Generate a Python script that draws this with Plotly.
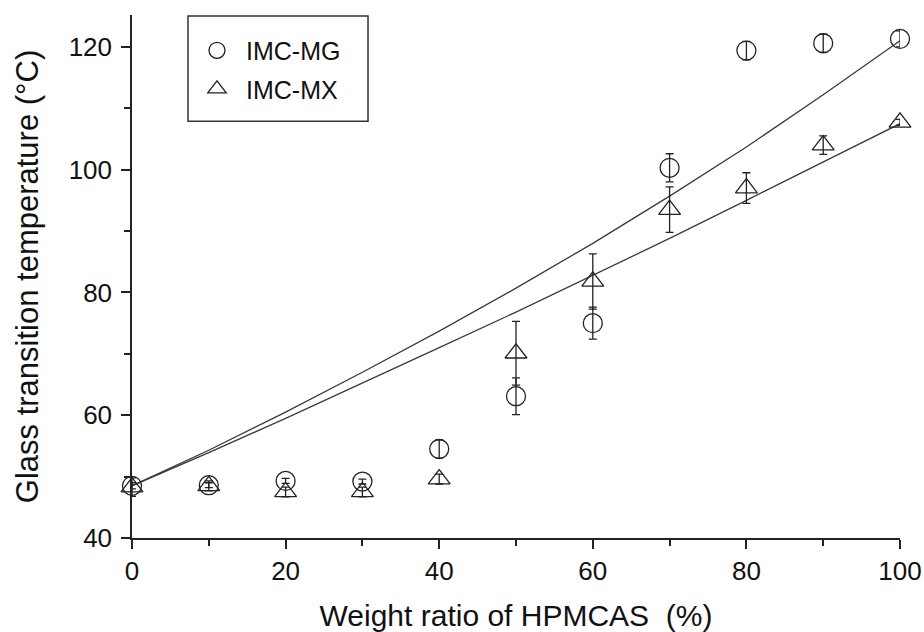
import plotly.graph_objects as go

# HPMCAS weight ratio (%)
ratio = [0, 10, 20, 30, 40, 50, 60, 70, 80, 90, 100]

# Measured glass transition temperatures (°C) with error bars
tg_mg = [48.5, 48.6, 49.3, 49.2, 54.5, 63.1, 75.0, 100.3, 119.4, 120.6, 121.3]
err_mg = [0.5, 0.4, 0.4, 0.4, 1.5, 3.0, 2.6, 2.3, 1.5, 1.5, 1.3]
tg_mx = [48.3, 48.5, 47.5, 47.5, 49.6, 70.1, 81.8, 93.5, 97.0, 104.0, 107.7]
err_mx = [1.5, 0.8, 0.8, 0.8, 0.8, 5.2, 4.5, 3.7, 2.5, 1.5, 0.5]

# Predicted Tg curves for the two systems
pred_mg = [48.5, 54.3, 60.5, 67.0, 73.7, 80.7, 88.0, 95.7, 103.7, 112.2, 121.0]
pred_mx = [48.5, 53.9, 59.5, 65.2, 71.0, 76.8, 82.8, 88.8, 95.0, 101.2, 107.5]

INK = "#222222"
TEXT = "#111111"
FONT = "Arial, Liberation Sans, sans-serif"

fig = go.Figure()

for pred in (pred_mg, pred_mx):
    fig.add_trace(go.Scatter(
        x=ratio, y=pred, mode="lines", showlegend=False,
        line=dict(color="#3a3a3a", width=1.3), hoverinfo="skip",
    ))

fig.add_trace(go.Scatter(
    x=ratio, y=tg_mg, mode="markers", name="IMC-MG",
    legendgroup="mg", cliponaxis=False,
    marker=dict(symbol="circle-open", size=19, color=INK, line=dict(width=1.3)),
    error_y=dict(type="data", array=err_mg, color=INK, thickness=1.3, width=4),
))
fig.add_trace(go.Scatter(
    x=ratio, y=tg_mx, mode="markers", name="IMC-MX",
    legendgroup="mx", cliponaxis=False,
    marker=dict(symbol="triangle-up-open", size=19, color=INK, line=dict(width=1.3)),
    error_y=dict(type="data", array=err_mx, color=INK, thickness=1.3, width=4),
))

axis_common = dict(
    showline=True, linecolor=INK, linewidth=1.5,
    ticks="outside", ticklen=9, tickwidth=1.5, tickcolor=INK,
    showgrid=False, zeroline=False,
    tickfont=dict(family=FONT, size=26, color=TEXT),
)

fig.update_layout(
    template="none",
    width=924, height=632,
    margin=dict(l=132, r=24, t=15, b=94),
    paper_bgcolor="white", plot_bgcolor="white",
    font=dict(family=FONT, color=TEXT),
    xaxis=dict(
        range=[0, 100], tick0=0, dtick=20, automargin=False,
        minor=dict(dtick=10, ticks="outside", ticklen=6, tickwidth=1.5, tickcolor=INK),
        title=dict(text="Weight ratio of HPMCAS\u00a0 (%)",
                   font=dict(family=FONT, size=30, color=TEXT)),
        **axis_common,
    ),
    yaxis=dict(
        range=[40, 125.2], tick0=0, dtick=20, automargin=True,
        minor=dict(dtick=10, ticks="outside", ticklen=6, tickwidth=1.5, tickcolor=INK),
        ticklabelstandoff=4,
        title=dict(text="Glass transition temperature (°C)",
                   font=dict(family=FONT, size=31, color=TEXT), standoff=21),
        **axis_common,
    ),
    legend=dict(
        x=0.0729, y=0.976, xanchor="left", yanchor="top",
        borderwidth=0, bgcolor="rgba(0,0,0,0)",
        font=dict(family=FONT, size=25, color=TEXT),
        itemwidth=48, tracegroupgap=3,
    ),
    # frame around the legend entries
    shapes=[dict(
        type="rect", xref="paper", yref="paper",
        x0=0.0729, x1=0.3073, y0=0.797, y1=0.998,
        line=dict(color="#333333", width=1.5), layer="above",
    )],
)

fig.write_html("out.html")
